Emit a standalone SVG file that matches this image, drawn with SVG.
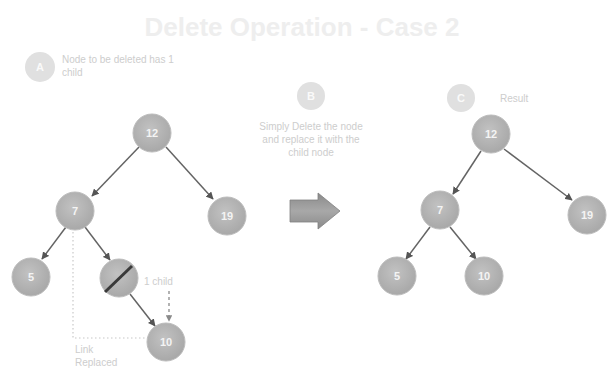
<svg xmlns="http://www.w3.org/2000/svg" width="613" height="382" viewBox="0 0 613 382">
  <style>
    .title { font-family: "Liberation Sans", Arial, sans-serif; font-size: 26px; font-weight: bold; fill: #eeeeee; }
    .note { font-family: "Liberation Sans", Arial, sans-serif; font-size: 10px; fill: #cdcdcd; }
    .step circle { fill: #e0e0e0; }
    .step text { font-family: "Liberation Sans", Arial, sans-serif; font-size: 11px; font-weight: bold; fill: #fafafa; text-anchor: middle; }
    .node circle { fill: url(#nodeFill); stroke: #bcbcbc; stroke-width: 1; }
    .node text { font-family: "Liberation Sans", Arial, sans-serif; font-size: 11px; font-weight: bold; fill: #f4f4f4; text-anchor: middle; }
    .edge { stroke: #646464; stroke-width: 1.5; fill: none; marker-end: url(#head); }
    .guide { stroke: #c8c8c8; stroke-width: 1.2; stroke-dasharray: 1.5 2.5; fill: none; }
  </style>
  <defs>
    <radialGradient id="nodeFill" cx="0.45" cy="0.4" r="0.65">
      <stop offset="0" stop-color="#c2c2c2"/>
      <stop offset="1" stop-color="#a6a6a6"/>
    </radialGradient>
    <linearGradient id="bigArrow" x1="0" y1="0" x2="0" y2="1">
      <stop offset="0" stop-color="#8a8a8a"/>
      <stop offset="0.5" stop-color="#a8a8a8"/>
      <stop offset="1" stop-color="#8a8a8a"/>
    </linearGradient>
    <marker id="head" viewBox="0 0 10 10" refX="9" refY="5" markerWidth="5" markerHeight="5" orient="auto">
      <path d="M0,0 L10,5 L0,10 z" fill="#555555"/>
    </marker>
    <marker id="headDash" viewBox="0 0 10 10" refX="9" refY="5" markerWidth="5" markerHeight="5" orient="auto">
      <path d="M0,0 L10,5 L0,10 z" fill="#8a8a8a"/>
    </marker>
  </defs>

  <rect width="613" height="382" fill="#ffffff"/>

  <text class="title" x="302" y="36" text-anchor="middle">Delete Operation - Case 2</text>

  <!-- step markers and notes -->
  <g id="stepA" class="step">
    <circle cx="40" cy="67" r="15"/>
    <text x="40" y="71">A</text>
  </g>
  <text class="note" x="62" y="63">Node to be deleted has 1</text>
  <text class="note" x="62" y="76">child</text>

  <g id="stepB" class="step">
    <circle cx="311" cy="96" r="14"/>
    <text x="311" y="100">B</text>
  </g>
  <text class="note" x="311" y="130" text-anchor="middle">Simply Delete the node</text>
  <text class="note" x="311" y="143" text-anchor="middle">and replace it with the</text>
  <text class="note" x="311" y="156" text-anchor="middle">child node</text>

  <g id="stepC" class="step">
    <circle cx="461" cy="98" r="14"/>
    <text x="461" y="102">C</text>
  </g>
  <text class="note" x="500" y="102">Result</text>

  <!-- connectors -->
  <g id="connectors">
    <line class="edge" x1="139" y1="147" x2="92" y2="196"/>
    <line class="edge" x1="166" y1="147" x2="213" y2="199"/>
    <line class="edge" x1="66" y1="227" x2="42" y2="259"/>
    <line class="edge" x1="85" y1="227" x2="110" y2="260"/>
    <line class="edge" x1="130" y1="294" x2="155" y2="326"/>

    <line class="edge" x1="481" y1="151" x2="453" y2="194"/>
    <line class="edge" x1="504" y1="149" x2="572" y2="200"/>
    <line class="edge" x1="430" y1="227" x2="406" y2="259"/>
    <line class="edge" x1="450" y1="227" x2="476" y2="259"/>

    <!-- replacement hints -->
    <line x1="169" y1="291" x2="169" y2="321" stroke="#8a8a8a" stroke-width="1.3" stroke-dasharray="3 3" marker-end="url(#headDash)"/>
    <polyline class="guide" points="73,232 73,338 146,338"/>
  </g>
  <text class="note" x="144" y="285">1 child</text>
  <text class="note" x="75" y="353">Link</text>
  <text class="note" x="75" y="366">Replaced</text>

  <!-- tree before deletion -->
  <g id="n12a" class="node"><circle cx="152" cy="133" r="19"/><text x="152" y="137">12</text></g>
  <g id="n7a" class="node"><circle cx="75" cy="211" r="19"/><text x="75" y="215">7</text></g>
  <g id="n19a" class="node"><circle cx="227" cy="216" r="19"/><text x="227" y="220">19</text></g>
  <g id="n5a" class="node"><circle cx="31" cy="277" r="19"/><text x="31" y="281">5</text></g>
  <g id="nDel" class="node">
    <circle cx="119" cy="278" r="19"/>
    <line x1="105" y1="292" x2="132" y2="266" stroke="#3a3a3a" stroke-width="3"/>
  </g>
  <g id="n10a" class="node"><circle cx="166" cy="342" r="19"/><text x="166" y="346">10</text></g>

  <!-- transition arrow -->
  <g id="bigArrow">
    <path d="M290,200 L318,200 L318,193 L340,211 L318,229 L318,222 L290,222 Z" fill="url(#bigArrow)" stroke="#808080" stroke-width="0.8"/>
  </g>

  <!-- tree after deletion -->
  <g id="n12b" class="node"><circle cx="491" cy="134" r="19"/><text x="491" y="138">12</text></g>
  <g id="n7b" class="node"><circle cx="440" cy="210" r="19"/><text x="440" y="214">7</text></g>
  <g id="n19b" class="node"><circle cx="587" cy="215" r="19"/><text x="587" y="219">19</text></g>
  <g id="n5b" class="node"><circle cx="397" cy="276" r="19"/><text x="397" y="280">5</text></g>
  <g id="n10b" class="node"><circle cx="484" cy="276" r="19"/><text x="484" y="280">10</text></g>
</svg>
